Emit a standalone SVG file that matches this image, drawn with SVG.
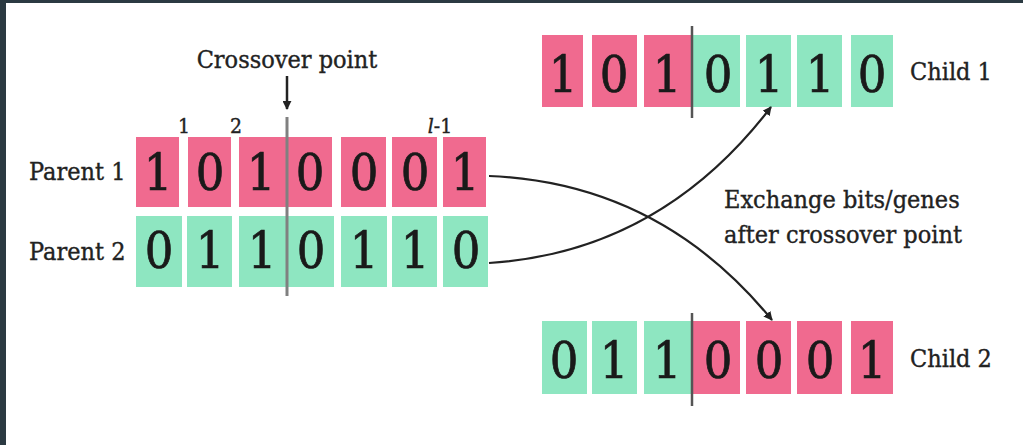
<svg xmlns="http://www.w3.org/2000/svg" width="1023" height="445" viewBox="0 0 1023 445">
<style>
.lbl{font-family:'DejaVu Serif Condensed','DejaVu Serif',serif;font-stretch:condensed;font-size:25px;fill:#222;stroke:#222;stroke-width:0.35}
.idx{font-family:'DejaVu Serif Condensed','DejaVu Serif',serif;font-stretch:condensed;font-size:21px;fill:#222;stroke:#222;stroke-width:0.35}
.dg{font-family:'DejaVu Serif Condensed','DejaVu Serif',serif;font-stretch:condensed;font-size:50px;fill:#1a1a1a;stroke:#1a1a1a;stroke-width:0.7;text-anchor:middle}
.p{fill:#f06a8f}
.g{fill:#8ee6c1}
.cut{stroke:#555;stroke-width:2.5}
.conn{fill:none;stroke:#222;stroke-width:2.2}
</style>
<defs>
<marker id="ah" viewBox="0 0 10 10" refX="9" refY="5" markerWidth="9" markerHeight="9" markerUnits="userSpaceOnUse" orient="auto">
<path d="M0,0 L10,5 L0,10 z" fill="#222"/>
</marker>
<marker id="ah2" viewBox="0 0 10 10" refX="9" refY="5" markerWidth="9" markerHeight="9" markerUnits="userSpaceOnUse" orient="auto">
<path d="M0,0 L10,5 L0,10 z" fill="#222"/>
</marker>
</defs>
<rect x="0" y="0" width="1023" height="445" fill="#ffffff"/>
<rect x="0" y="0" width="1023" height="3" fill="#2b3a42"/>
<rect x="0" y="0" width="6" height="445" fill="#2b3a42"/>

<g id="crossover-label">
<text class="lbl" x="287" y="68" text-anchor="middle">Crossover point</text>
<line x1="287" y1="76" x2="287" y2="109" stroke="#222" stroke-width="2.5" marker-end="url(#ah2)"/>
</g>

<g id="indices">
<text class="idx" x="184" y="133" text-anchor="middle">1</text>
<text class="idx" x="236" y="133" text-anchor="middle">2</text>
<text class="idx" x="440" y="133" text-anchor="middle"><tspan font-style="italic">l</tspan>-1</text>
</g>

<g id="parent1">
<text class="lbl" x="29" y="180">Parent 1</text>
<rect class="p" x="136" y="137" width="43" height="70"/>
<rect class="p" x="188" y="137" width="43" height="70"/>
<rect class="p" x="239" y="137" width="47" height="70"/>
<rect class="p" x="286" y="137" width="46" height="70"/>
<rect class="p" x="341" y="137" width="45" height="70"/>
<rect class="p" x="392" y="137" width="45" height="70"/>
<rect class="p" x="443" y="137" width="43" height="70"/>
<text class="dg" y="190"><tspan x="158">1</tspan><tspan x="210">0</tspan><tspan x="261">1</tspan><tspan x="310">0</tspan><tspan x="364">0</tspan><tspan x="415">0</tspan><tspan x="465">1</tspan></text>
</g>

<g id="parent2">
<text class="lbl" x="29" y="260">Parent 2</text>
<rect class="g" x="136" y="216" width="46" height="71"/>
<rect class="g" x="187" y="216" width="45" height="71"/>
<rect class="g" x="239" y="216" width="47" height="71"/>
<rect class="g" x="286" y="216" width="48" height="71"/>
<rect class="g" x="341" y="216" width="46" height="71"/>
<rect class="g" x="392" y="216" width="45" height="71"/>
<rect class="g" x="443" y="216" width="45" height="71"/>
<text class="dg" y="268"><tspan x="159">0</tspan><tspan x="210">1</tspan><tspan x="262">1</tspan><tspan x="311">0</tspan><tspan x="364">1</tspan><tspan x="415">1</tspan><tspan x="466">0</tspan></text>
</g>

<g id="crossover-line">
<line x1="287" y1="117" x2="287" y2="296" stroke="#808080" stroke-width="3"/>
</g>

<g id="child1">
<rect class="p" x="542" y="35" width="41" height="72"/>
<rect class="p" x="592" y="35" width="45" height="72"/>
<rect class="p" x="644" y="35" width="48" height="72"/>
<rect class="g" x="692" y="35" width="48" height="72"/>
<rect class="g" x="746" y="35" width="45" height="72"/>
<rect class="g" x="797" y="35" width="45" height="72"/>
<rect class="g" x="851" y="35" width="42" height="72"/>
<line class="cut" x1="692" y1="26" x2="692" y2="118"/>
<text class="dg" y="92"><tspan x="563">1</tspan><tspan x="614">0</tspan><tspan x="667">1</tspan><tspan x="718">0</tspan><tspan x="769">1</tspan><tspan x="820">1</tspan><tspan x="872">0</tspan></text>
<text class="lbl" x="910" y="80">Child 1</text>
</g>

<g id="child2">
<rect class="g" x="542" y="321" width="45" height="73"/>
<rect class="g" x="592" y="321" width="45" height="73"/>
<rect class="g" x="644" y="321" width="48" height="73"/>
<rect class="p" x="692" y="321" width="48" height="73"/>
<rect class="p" x="746" y="321" width="45" height="73"/>
<rect class="p" x="797" y="321" width="45" height="73"/>
<rect class="p" x="851" y="321" width="42" height="73"/>
<line class="cut" x1="692" y1="313" x2="692" y2="406"/>
<text class="dg" y="378"><tspan x="564">0</tspan><tspan x="614">1</tspan><tspan x="667">1</tspan><tspan x="718">0</tspan><tspan x="769">0</tspan><tspan x="820">0</tspan><tspan x="872">1</tspan></text>
<text class="lbl" x="910" y="367">Child 2</text>
</g>

<g id="exchange-label">
<text class="lbl" x="724" y="208">Exchange bits/genes</text>
<text class="lbl" x="724" y="243">after crossover point</text>
</g>

<g id="connectors">
<path class="conn" d="M489,176 Q660,183 772,320" marker-end="url(#ah)"/>
<path class="conn" d="M489,263 Q660,252 771,107" marker-end="url(#ah)"/>
</g>
</svg>
